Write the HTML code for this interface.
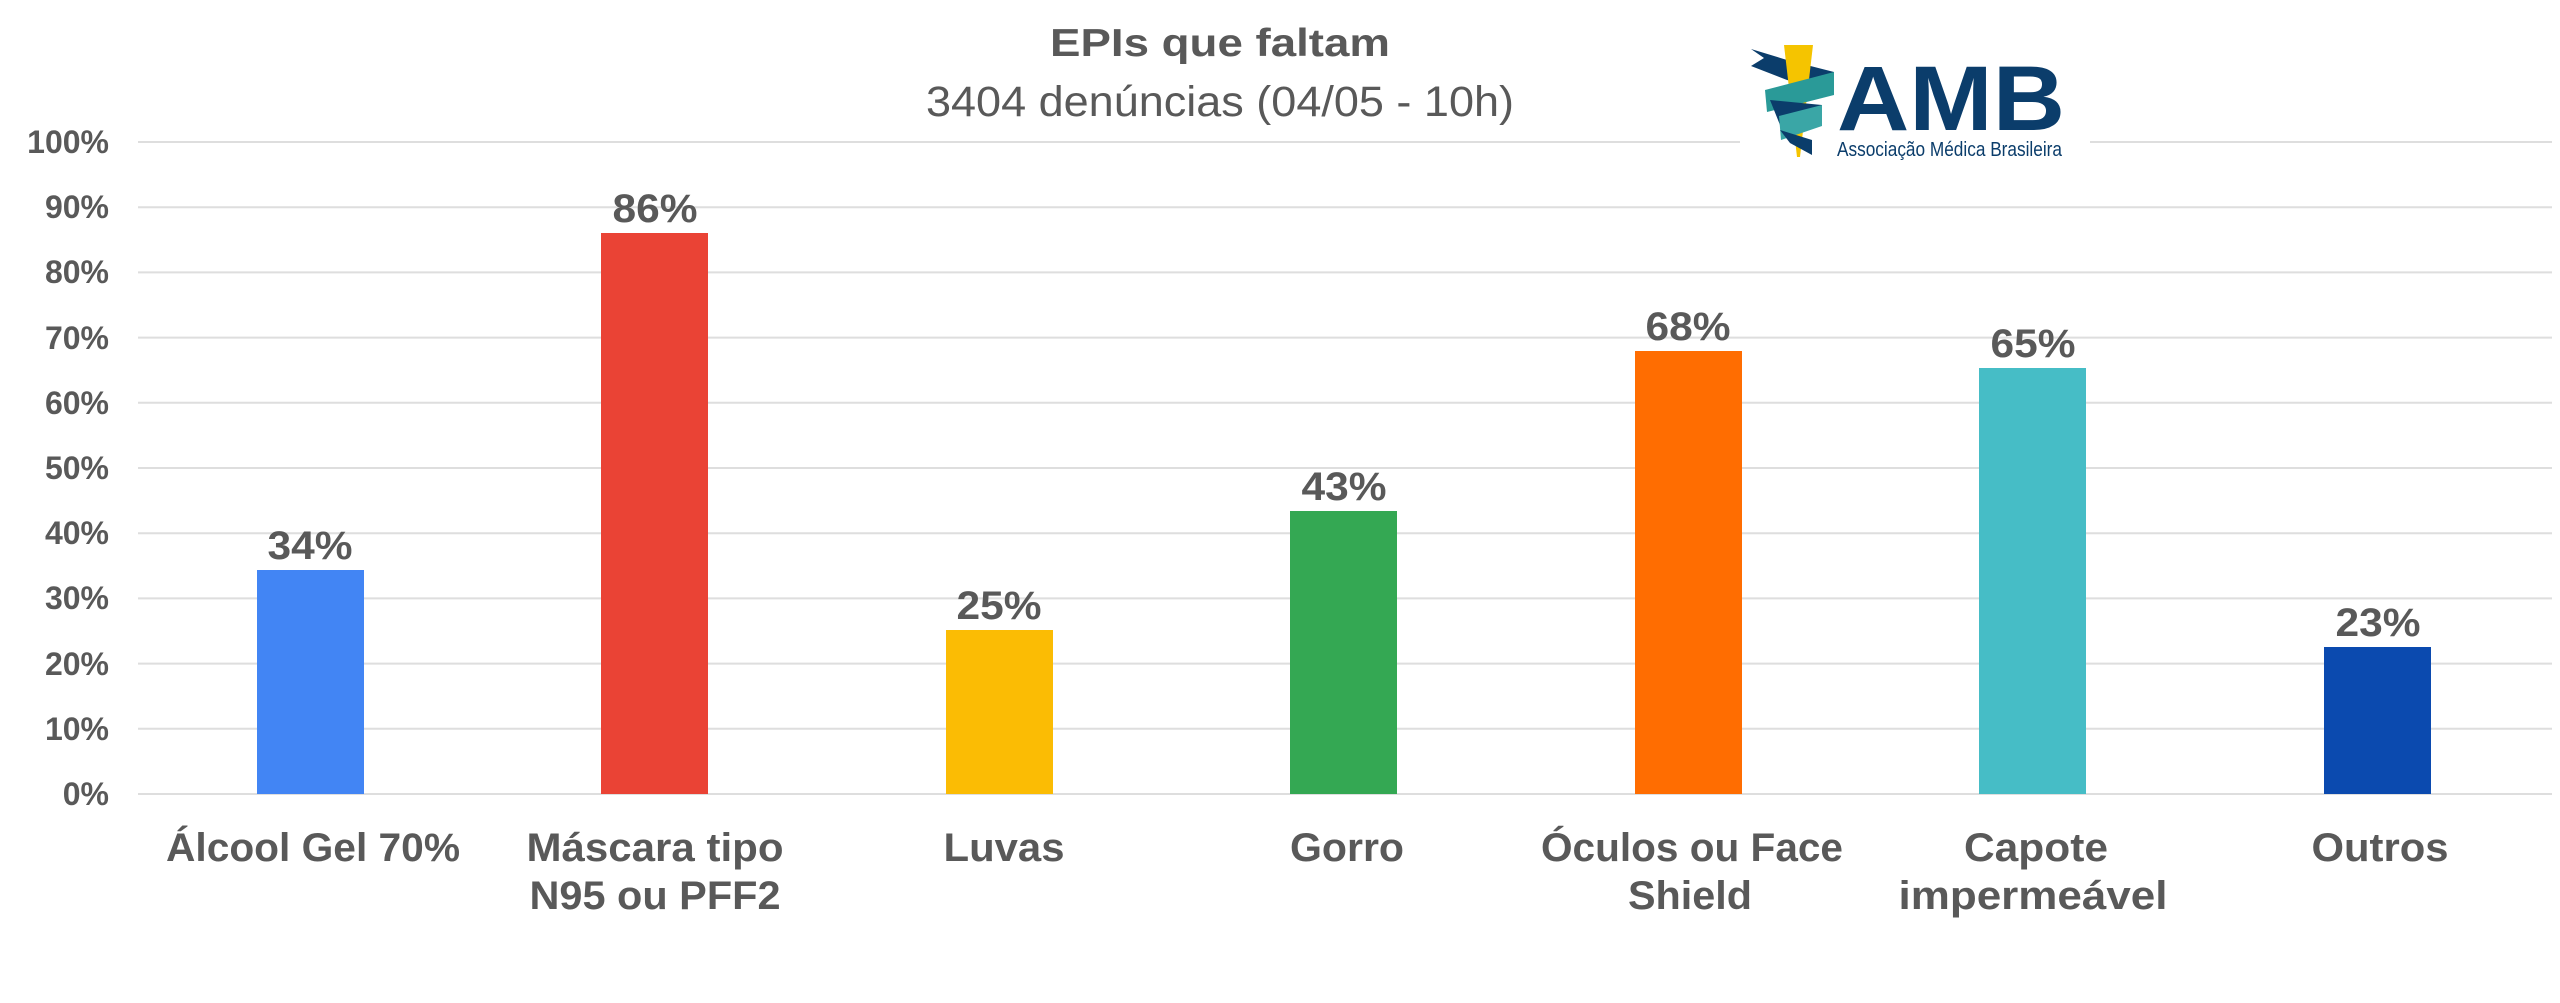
<!DOCTYPE html>
<html><head><meta charset="utf-8"><style>
html,body{margin:0;padding:0;background:#fff;}
svg{display:block;}
text{font-family:"Liberation Sans",sans-serif;fill:#595959;font-weight:bold;}
</style></head><body>
<svg width="2560" height="1003" viewBox="0 0 2560 1003" xmlns="http://www.w3.org/2000/svg">
<rect width="2560" height="1003" fill="#fff"/>
<g stroke="#dedede" stroke-width="2">
<line x1="138" x2="2552" y1="142" y2="142"/>
<line x1="138" x2="2552" y1="207.2" y2="207.2"/>
<line x1="138" x2="2552" y1="272.4" y2="272.4"/>
<line x1="138" x2="2552" y1="337.6" y2="337.6"/>
<line x1="138" x2="2552" y1="402.8" y2="402.8"/>
<line x1="138" x2="2552" y1="468" y2="468"/>
<line x1="138" x2="2552" y1="533.2" y2="533.2"/>
<line x1="138" x2="2552" y1="598.4" y2="598.4"/>
<line x1="138" x2="2552" y1="663.6" y2="663.6"/>
<line x1="138" x2="2552" y1="728.8" y2="728.8"/>
<line x1="138" x2="2552" y1="794" y2="794"/>
</g>
<g font-size="32" text-anchor="end">
<text x="109" y="153">100%</text>
<text x="109" y="218">90%</text>
<text x="109" y="283">80%</text>
<text x="109" y="349">70%</text>
<text x="109" y="414">60%</text>
<text x="109" y="479">50%</text>
<text x="109" y="544">40%</text>
<text x="109" y="609">30%</text>
<text x="109" y="675">20%</text>
<text x="109" y="740">10%</text>
<text x="109" y="805">0%</text>
</g>
<rect x="257" y="570" width="107" height="224" fill="#4285f4"/>
<rect x="601" y="233" width="107" height="561" fill="#ea4335"/>
<rect x="946" y="630" width="107" height="164" fill="#fbbc04"/>
<rect x="1290" y="511" width="107" height="283" fill="#34a853"/>
<rect x="1635" y="351" width="107" height="443" fill="#ff6d01"/>
<rect x="1979" y="368" width="107" height="426" fill="#46bdc6"/>
<rect x="2324" y="647" width="107" height="147" fill="#0b4aaf"/>
<g font-size="40" text-anchor="middle">
<text x="310" y="559" textLength="85" lengthAdjust="spacingAndGlyphs">34%</text>
<text x="655" y="222" textLength="85" lengthAdjust="spacingAndGlyphs">86%</text>
<text x="999" y="619" textLength="85" lengthAdjust="spacingAndGlyphs">25%</text>
<text x="1344" y="500" textLength="85" lengthAdjust="spacingAndGlyphs">43%</text>
<text x="1688" y="340" textLength="85" lengthAdjust="spacingAndGlyphs">68%</text>
<text x="2033" y="357" textLength="85" lengthAdjust="spacingAndGlyphs">65%</text>
<text x="2378" y="636" textLength="85" lengthAdjust="spacingAndGlyphs">23%</text>
</g>
<g font-size="40" text-anchor="middle">
<text x="313" y="861" textLength="294" lengthAdjust="spacingAndGlyphs">Álcool Gel 70%</text>
<text x="655" y="861" textLength="257" lengthAdjust="spacingAndGlyphs">Máscara tipo</text>
<text x="655" y="909" textLength="251" lengthAdjust="spacingAndGlyphs">N95 ou PFF2</text>
<text x="1004" y="861" textLength="121" lengthAdjust="spacingAndGlyphs">Luvas</text>
<text x="1347" y="861" textLength="114" lengthAdjust="spacingAndGlyphs">Gorro</text>
<text x="1692" y="861" textLength="302" lengthAdjust="spacingAndGlyphs">Óculos ou Face</text>
<text x="1690" y="909" textLength="124" lengthAdjust="spacingAndGlyphs">Shield</text>
<text x="2036" y="861" textLength="144" lengthAdjust="spacingAndGlyphs">Capote</text>
<text x="2033" y="909" textLength="269" lengthAdjust="spacingAndGlyphs">impermeável</text>
<text x="2380" y="861" textLength="137" lengthAdjust="spacingAndGlyphs">Outros</text>
</g>
<text x="1220" y="56" font-size="39" text-anchor="middle" textLength="340" lengthAdjust="spacingAndGlyphs">EPIs que faltam</text>
<text x="1220" y="116" font-size="43" font-weight="normal" style="font-weight:normal" text-anchor="middle" textLength="588" lengthAdjust="spacingAndGlyphs">3404 denúncias (04/05 - 10h)</text>
<!-- logo -->
<rect x="1740" y="30" width="350" height="150" fill="#fff"/>
<polygon points="1751,49 1787,60 1834,72 1834,92 1787,80 1751,66 1764,58" fill="#0b3d6b"/>
<polygon points="1784,45 1813,45 1800,157 1797,157" fill="#f5c400"/>
<polygon points="1765,90 1834,72 1834,95 1767,112" fill="#2a9a98"/>
<polygon points="1770,100 1822,105 1822,125 1782,130" fill="#0b3d6b"/>
<polygon points="1779,116 1822,105 1822,126 1781,140" fill="#3aa6a6"/>
<polygon points="1780,130 1812,140 1812,155 1790,143" fill="#0b3d6b"/>
<text x="1837" y="130" font-size="92" style="fill:#0b3d6b" textLength="228" lengthAdjust="spacingAndGlyphs">AMB</text>
<text x="1837" y="156" font-size="20" font-weight="normal" style="fill:#0b3d6b;font-weight:normal" textLength="225" lengthAdjust="spacingAndGlyphs">Associação Médica Brasileira</text>
</svg>
</body></html>
